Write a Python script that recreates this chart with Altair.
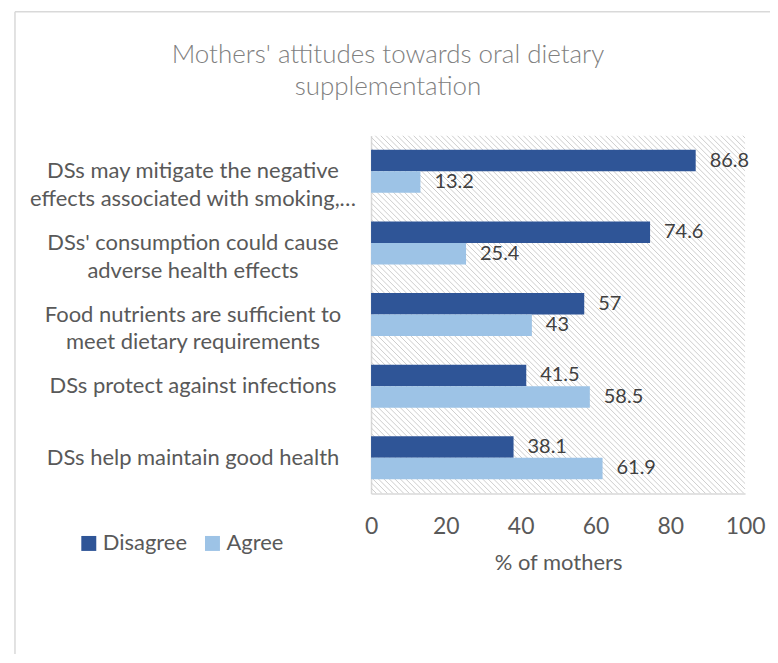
import altair as alt
import pandas as pd
import numpy as np

title_lines = ["Mothers' attitudes towards oral dietary", "supplementation"]
categories = [
    "DSs may mitigate the negative|effects associated with smoking,…",
    "DSs' consumption could cause|adverse health effects",
    "Food nutrients are sufficient to|meet dietary requirements",
    "DSs protect against infections",
    "DSs help maintain good health",
]
disagree = [86.8, 74.6, 57, 41.5, 38.1]
agree = [13.2, 25.4, 43, 58.5, 61.9]
responses = ["Disagree", "Agree"]
colors = ["#2F5597", "#9DC3E6"]
x_ticks = [0, 20, 40, 60, 80, 100]

rows = []
for c, d, a in zip(categories, disagree, agree):
    rows.append({"category": c, "response": "Disagree", "value": d})
    rows.append({"category": c, "response": "Agree", "value": a})
df = pd.DataFrame(rows)

W, H = 375, 359
FONT = "Lato"

# background hatching (decoration)
starts = np.arange(-H, W, 5.5)
hatch = pd.DataFrame({"hx": starts, "hx2": starts + H, "hy": 0.0, "hy2": float(H)})

hatch_layer = alt.Chart(hatch).mark_rule(clip=True, color="#cdcdcd", strokeWidth=1).encode(
    x=alt.X("hx:Q", scale=alt.Scale(domain=[0, W], nice=False, zero=False), axis=None),
    x2="hx2:Q",
    y=alt.Y("hy:Q", scale=alt.Scale(domain=[0, H], reverse=True, nice=False), axis=None),
    y2="hy2:Q",
)

frame_top = alt.Chart(alt.Data(values=[{}])).mark_rule(color="#d9d9d9", strokeWidth=1.5).encode(
    x=alt.value(-357), x2=alt.value(600), y=alt.value(-124)
)
frame_left = alt.Chart(alt.Data(values=[{}])).mark_rule(color="#d9d9d9", strokeWidth=1.5).encode(
    x=alt.value(-357), y=alt.value(-124), y2=alt.value(700)
)

title1 = alt.Chart(alt.Data(values=[{}])).mark_text(
    align="center", baseline="alphabetic", fontSize=26, font=FONT, fontWeight=300, color="#808080"
).encode(x=alt.value(17), y=alt.value(-73), text=alt.value(title_lines[0]))
title2 = alt.Chart(alt.Data(values=[{}])).mark_text(
    align="center", baseline="alphabetic", fontSize=26, font=FONT, fontWeight=300, color="#808080"
).encode(x=alt.value(17), y=alt.value(-41), text=alt.value(title_lines[1]))

base = alt.Chart(df)

y_enc = alt.Y(
    "category:N",
    sort=categories,
    scale=alt.Scale(paddingInner=0.4, paddingOuter=0.2),
    axis=alt.Axis(
        title=None,
        labelExpr="split(datum.label, '|')",
        labelAlign="center",
        labelPadding=179,
        labelFontSize=22,
        labelLineHeight=28,
        labelLimit=500,
        labelColor="#595959",
        labelFont=FONT,
        ticks=False,
        domainColor="#d9d9d9",
        domainWidth=1.5,
    ),
)
yoff = alt.YOffset("response:N", sort=responses, scale=alt.Scale(paddingInner=0, paddingOuter=0))

bars = base.mark_bar().encode(
    x=alt.X(
        "value:Q",
        scale=alt.Scale(domain=[0, 100], nice=False),
        axis=alt.Axis(
            values=x_ticks,
            title="% of mothers",
            titleFontSize=22,
            titleFont=FONT,
            titleFontWeight="normal",
            titleColor="#595959",
            titlePadding=14,
            labelFontSize=23,
            labelFont=FONT,
            labelColor="#595959",
            labelPadding=22,
            labelFlush=False,
            ticks=False,
            grid=False,
            domainColor="#d9d9d9",
            domainWidth=1.5,
        ),
    ),
    y=y_enc,
    yOffset=yoff,
    color=alt.Color(
        "response:N",
        sort=responses,
        scale=alt.Scale(domain=responses, range=colors),
        legend=alt.Legend(
            title=None,
            orient="none",
            direction="horizontal",
            legendX=-294,
            legendY=398,
            symbolType="square",
            symbolSize=225,
            symbolStrokeWidth=0,
            symbolOpacity=1,
            labelFontSize=22,
            labelFont=FONT,
            labelColor="#595959",
            labelOffset=3,
            columnPadding=14,
        ),
    ),
)

labels = base.mark_text(align="left", baseline="middle", dx=14, fontSize=20, font=FONT, color="#404040").encode(
    x=alt.X("value:Q"),
    y=alt.Y("category:N", sort=categories),
    yOffset=yoff,
    text=alt.Text("value:Q"),
)

main = alt.layer(bars, labels)

chart = (
    alt.layer(hatch_layer, main, frame_top, frame_left, title1, title2)
    .resolve_scale(x="independent", y="independent")
    .properties(
        width=W,
        height=H,
        autosize=alt.AutoSizeParams(type="none"),
        padding={"left": 364, "top": 127, "right": 25, "bottom": 160},
    )
    .configure_view(stroke=None)
)

chart.save("out.html", embed_options={"renderer": "svg", "actions": False})
